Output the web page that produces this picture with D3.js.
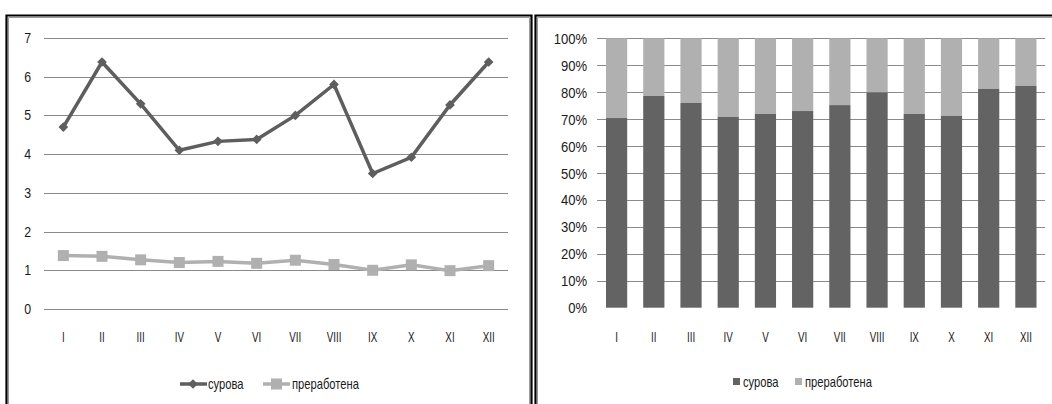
<!DOCTYPE html>
<html><head><meta charset="utf-8">
<script src="https://cdn.jsdelivr.net/npm/d3@7/dist/d3.min.js"></script>
<style>
html,body{margin:0;padding:0;background:#fff;}
svg text{font-family:"Liberation Sans",Arial,sans-serif;fill:#1a1a1a;}
</style></head>
<body>
<svg id="c" width="1052" height="404"></svg>
<script>
const months = ["I","II","III","IV","V","VI","VII","VIII","IX","X","XI","XII"];
const raw = [4.7,6.38,5.3,4.1,4.33,4.38,5.0,5.8,3.5,3.92,5.27,6.38];
const processed = [1.38,1.36,1.27,1.2,1.23,1.18,1.26,1.15,1.0,1.14,0.99,1.12];
const rawShare = [70.4,78.6,76.0,70.8,71.9,73.0,75.2,79.9,71.9,71.2,81.2,82.3];
const lineTicks = [0,1,2,3,4,5,6,7];
const pctTicks = [0,10,20,30,40,50,60,70,80,90,100];
const seriesNames = ["сурова","преработена"];

const dark = "#5e5e5e", light = "#b0b0b0", grid = "#8a8a8a";
const svg = d3.select("#c");

function label(g, data, fx, fy, txt, size, sx, anchor){
  return g.append("g").selectAll("text").data(data).join("text")
    .attr("transform",(d,i)=>`translate(${fx(d,i)},${fy(d,i)}) scale(${sx},1)`)
    .attr("text-anchor",anchor).attr("font-size",size).text(txt);
}

// frames
function frame(d){
  svg.append("path").attr("d",d).attr("fill","none").attr("stroke","#000").attr("stroke-width",2.2);
}
frame("M6.5,404V15.5H531.5V404");
frame("M535.5,404V15.5H1052");
svg.append("path").attr("d","M8.5,404V17.5H529.5V404").attr("fill","none").attr("stroke","#9a9a9a").attr("stroke-width",1);
svg.append("path").attr("d","M537.5,404V17.5H1052").attr("fill","none").attr("stroke","#9a9a9a").attr("stroke-width",1);

// ---------- left line chart ----------
const x1 = d3.scaleBand().domain(months).range([44,508]);
const y1 = d3.scaleLinear().domain([0,7]).range([309,38]);
const L = svg.append("g");
L.append("g").selectAll("line").data(lineTicks).join("line")
  .attr("x1",44).attr("x2",508).attr("y1",d=>Math.round(y1(d))+0.5).attr("y2",d=>Math.round(y1(d))+0.5)
  .attr("stroke",grid).attr("stroke-width",1);
label(L, lineTicks, ()=>31, d=>y1(d)+5, d=>d, 14, 0.88, "end");
label(L, months, d=>x1(d)+x1.bandwidth()/2, ()=>342, d=>d, 14, 0.7, "middle");
const cx = (d,i)=>x1(months[i])+x1.bandwidth()/2;
const line1 = d3.line().x((d,i)=>cx(d,i)).y(d=>y1(d));
L.append("path").datum(processed).attr("d",line1).attr("fill","none").attr("stroke",light).attr("stroke-width",3.5);
L.append("g").selectAll("rect").data(processed).join("rect")
  .attr("x",(d,i)=>cx(d,i)-5.5).attr("y",d=>y1(d)-5.5).attr("width",11).attr("height",11).attr("fill",light);
L.append("path").datum(raw).attr("d",line1).attr("fill","none").attr("stroke",dark).attr("stroke-width",3.5);
const diamond = d3.symbol().type(d3.symbolDiamond2).size(60);
L.append("g").selectAll("path").data(raw).join("path")
  .attr("d",diamond).attr("transform",(d,i)=>`translate(${cx(d,i)},${y1(d)})`).attr("fill",dark);
// legend
const lg = L.append("g");
lg.append("line").attr("x1",180).attr("x2",207).attr("y1",384).attr("y2",384).attr("stroke",dark).attr("stroke-width",3.5);
lg.append("path").attr("d",diamond).attr("transform","translate(193,384)").attr("fill",dark);
label(lg, [seriesNames[0]], ()=>208, ()=>389, d=>d, 14, 0.8, "start");
lg.append("line").attr("x1",263).attr("x2",290).attr("y1",384).attr("y2",384).attr("stroke",light).attr("stroke-width",3.5);
lg.append("rect").attr("x",271).attr("y",378.5).attr("width",11).attr("height",11).attr("fill",light);
label(lg, [seriesNames[1]], ()=>292, ()=>389, d=>d, 14, 0.8, "start");

// ---------- right stacked bar chart ----------
const x2 = d3.scaleBand().domain(months).range([598,1044.5]).paddingInner(0.43).paddingOuter(0.215);
const y2 = d3.scaleLinear().domain([0,100]).range([307.7,38.3]);
const R = svg.append("g");
R.append("g").selectAll("line").data(pctTicks.filter(d=>d>0)).join("line")
  .attr("x1",597).attr("x2",1045).attr("y1",d=>Math.round(y2(d))+0.5).attr("y2",d=>Math.round(y2(d))+0.5)
  .attr("stroke",grid).attr("stroke-width",1);
label(R, pctTicks, ()=>587, d=>y2(d)+5.5, d=>d+"%", 15, 0.87, "end");
R.append("g").selectAll("rect.l").data(rawShare).join("rect")
  .attr("x",(d,i)=>x2(months[i])).attr("width",x2.bandwidth())
  .attr("y",y2(100)).attr("height",d=>y2(d)-y2(100)).attr("fill",light);
R.append("g").selectAll("rect.d").data(rawShare).join("rect")
  .attr("x",(d,i)=>x2(months[i])).attr("width",x2.bandwidth())
  .attr("y",d=>y2(d)).attr("height",d=>y2(0)-y2(d)).attr("fill","#636363");
label(R, months, d=>x2(d)+x2.bandwidth()/2, ()=>342, d=>d, 14, 0.7, "middle");
const rg = R.append("g");
rg.append("rect").attr("x",733).attr("y",378).attr("width",7).attr("height",7).attr("fill","#636363");
label(rg, [seriesNames[0]], ()=>743, ()=>387, d=>d, 14, 0.8, "start");
rg.append("rect").attr("x",795).attr("y",378).attr("width",7).attr("height",7).attr("fill",light);
label(rg, [seriesNames[1]], ()=>805, ()=>387, d=>d, 14, 0.8, "start");
</script>
</body></html>
